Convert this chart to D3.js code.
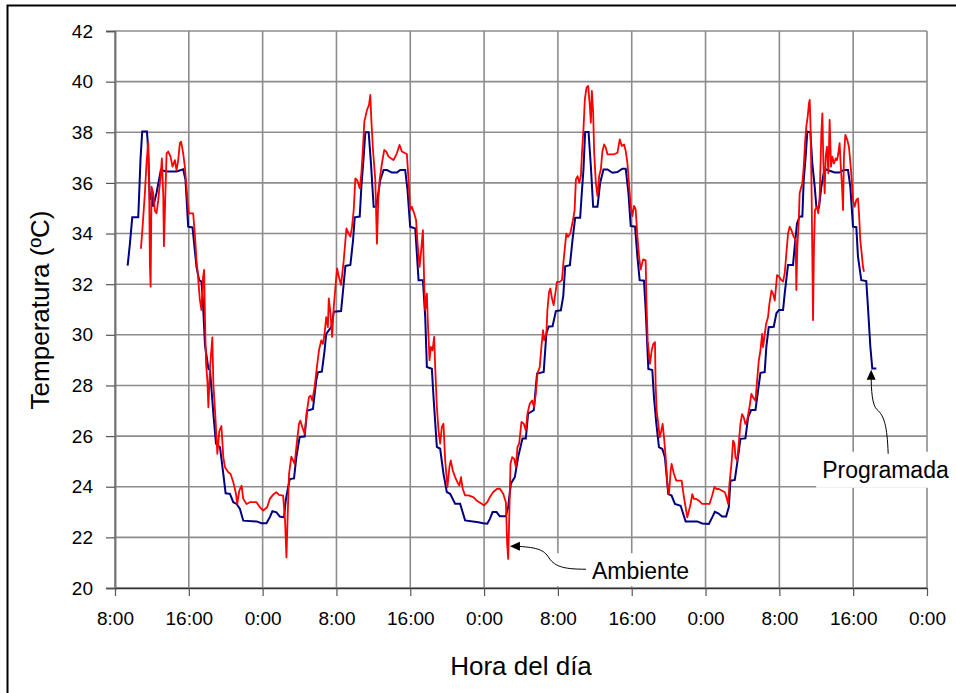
<!DOCTYPE html>
<html><head><meta charset="utf-8">
<script src="https://cdn.jsdelivr.net/npm/d3@7"></script>
<style>html,body{margin:0;padding:0;background:#fff;}svg{display:block;font-family:"Liberation Sans",Arial,sans-serif;}</style>
</head><body><svg id="c" width="956" height="693"></svg>
<script>
// Hours elapsed since the first 8:00 tick
const xTickHours = [0,8,16,24,32,40,48,56,64,72,80,88];
const xTickLabels = ["8:00","16:00","0:00","8:00","16:00","0:00","8:00","16:00","0:00","8:00","16:00","0:00"];
const yTicks = [20,22,24,26,28,30,32,34,36,38,40,42];

// Programada (blue)
const progHours = [1.37,1.62,1.87,2.52,2.77,2.95,3.46,3.53,3.78,3.95,4.14,4.5,4.97,5.59,6.67,7.39,7.64,7.93,8.4,8.83,9.12,9.37,9.5,9.75,10.12,10.3,10.66,10.95,11.38,11.74,11.99,12.46,12.82,13.18,13.54,13.9,15.34,15.88,16.42,16.78,17.06,17.5,17.86,18.32,18.5,18.76,18.94,19.4,19.65,20.01,20.55,20.81,21.45,21.81,21.99,22.42,22.71,22.89,23.46,23.71,24.5,24.72,24.97,25.51,25.8,25.98,26.52,26.7,26.95,27.13,27.49,27.74,28.03,28.32,28.75,29.11,29.47,30.01,30.55,30.91,31.45,31.7,31.99,32.54,32.9,33.37,33.62,33.8,34.34,34.52,34.88,35.24,35.6,35.96,36.32,36.86,37.4,37.94,39.37,39.91,40.35,40.63,40.92,41.35,41.71,42.36,42.61,42.9,43.33,43.69,44.16,44.52,44.77,45.38,45.74,46.46,46.75,47.0,47.42,47.78,48.32,48.58,48.79,49.3,49.59,49.87,50.41,50.59,50.77,50.95,51.32,51.57,51.82,52.29,52.58,52.94,53.37,53.91,54.45,54.99,55.35,55.64,55.89,56.36,56.61,56.86,57.33,57.51,57.8,58.23,58.41,58.67,58.95,59.32,59.6,59.96,60.32,60.68,61.3,61.84,63.1,63.64,64.36,64.72,65.01,65.37,65.8,66.23,66.52,66.7,67.17,67.42,67.78,68.32,68.61,68.94,69.41,69.69,69.95,70.41,70.59,70.85,71.39,71.68,71.96,72.4,72.58,72.94,73.48,73.66,73.91,74.2,74.49,74.64,74.85,75.03,75.36,75.57,75.83,76.01,76.3,76.55,76.8,77.02,77.45,78.0,78.53,78.97,79.44,79.69,79.98,80.34,80.52,80.88,81.42,81.6,81.86,82.07,82.51];
const progTemp = [32.73,33.61,34.64,34.64,36.97,38.03,38.03,37.7,35.33,35.6,35.06,35.6,36.51,36.45,36.45,36.54,36.12,34.27,34.24,32.69,32.16,32.1,31.5,29.6,28.66,28.6,26.88,25.7,25.56,24.5,23.74,23.72,23.39,23.32,23.12,22.66,22.63,22.56,22.56,22.8,23.03,22.99,22.82,22.79,23.45,23.98,24.3,24.33,25.16,25.96,25.98,27.0,27.07,28.2,28.52,28.55,29.38,30.04,30.32,30.91,30.94,31.77,32.72,32.76,33.74,34.64,34.67,35.85,37.04,38.0,38.0,36.77,35.06,35.06,36.12,36.51,36.51,36.41,36.41,36.51,36.51,35.72,34.27,34.2,32.16,32.16,30.7,28.73,28.66,27.54,25.57,25.5,24.51,23.79,23.72,23.33,23.33,22.67,22.6,22.56,22.54,22.73,23.0,23.0,22.83,22.83,23.2,24.12,24.38,25.17,25.9,25.9,26.89,27.02,28.47,28.53,30.05,30.33,30.34,30.94,30.97,31.53,32.71,32.75,33.77,34.62,34.62,35.61,36.53,38.01,38.01,36.67,35.06,35.06,36.01,36.53,36.53,36.4,36.43,36.56,36.56,35.61,34.3,34.27,33.11,32.16,32.14,31.0,28.65,28.61,27.53,26.48,25.56,25.49,25.16,23.71,23.65,23.32,23.25,22.63,22.63,22.55,22.53,22.79,23.01,22.95,22.82,22.82,23.19,24.24,24.27,24.9,25.89,25.91,26.74,27.03,27.03,27.8,28.5,28.53,29.53,30.3,30.32,30.85,30.98,30.98,31.64,32.76,32.76,33.48,34.4,34.67,34.67,36.12,37.04,38.03,37.99,36.77,35.85,35.06,35.04,35.85,36.38,36.54,36.48,36.41,36.41,36.51,36.51,35.85,34.27,34.25,33.09,32.16,32.12,31.11,29.53,28.67,28.67];

// Ambiente (red)
const ambHours = [2.81,2.99,3.24,3.42,3.6,3.68,3.78,3.86,3.96,4.14,4.32,4.5,4.68,4.94,5.08,5.23,5.3,5.44,5.59,5.77,6.02,6.23,6.49,6.67,6.85,7.03,7.17,7.39,7.57,7.75,7.86,8.0,8.47,8.65,8.83,9.0,9.19,9.37,9.55,9.66,9.77,9.87,10.01,10.12,10.3,10.55,10.66,10.88,11.09,11.31,11.53,11.74,11.92,12.28,12.53,12.82,13.11,13.25,13.47,13.72,13.9,14.26,14.62,15.34,15.7,16.06,16.49,16.78,17.14,17.5,17.78,18.22,18.43,18.58,18.72,18.86,19.11,19.47,19.65,19.94,20.09,20.3,20.55,20.81,21.02,21.2,21.38,21.63,21.88,22.1,22.35,22.53,22.71,22.89,23.07,23.17,23.35,23.53,23.71,23.89,24.07,24.25,24.5,24.79,25.08,25.33,25.51,25.69,25.87,26.05,26.23,26.52,26.7,26.88,27.02,27.31,27.53,27.67,27.78,27.96,28.21,28.32,28.39,28.53,28.68,28.93,29.18,29.4,29.65,29.9,30.19,30.55,30.83,31.09,31.63,31.81,31.99,32.17,32.42,32.63,32.79,33.01,33.15,33.37,33.51,33.62,33.8,33.91,34.09,34.23,34.41,34.59,34.7,34.88,35.06,35.24,35.42,35.6,35.78,36.03,36.24,36.39,36.6,36.86,37.11,37.32,37.5,37.68,37.94,38.3,38.83,39.19,39.73,39.99,40.35,40.63,40.99,41.42,41.71,42.07,42.36,42.5,42.61,42.72,42.86,43.04,43.26,43.44,43.62,43.8,44.05,44.3,44.52,44.7,44.95,45.2,45.42,45.6,45.78,46.03,46.21,46.39,46.5,46.75,46.86,47.04,47.18,47.36,47.54,47.72,47.9,48.19,48.44,48.62,48.91,49.09,49.34,49.63,49.81,49.95,50.13,50.31,50.49,50.59,50.77,50.92,51.1,51.28,51.46,51.57,51.68,51.82,51.93,52.11,52.29,52.47,52.65,52.83,53.01,53.19,53.37,54.09,54.45,54.7,54.92,55.17,55.35,55.53,55.71,55.89,56.07,56.25,56.43,56.61,56.79,56.97,57.23,57.51,57.59,57.73,57.87,57.98,58.16,58.34,58.52,58.59,58.7,58.88,59.03,59.21,59.35,59.5,59.68,59.86,60.04,60.22,60.32,60.58,60.83,61.41,61.66,61.84,62.02,62.2,62.38,62.56,62.74,62.99,63.28,63.64,64.43,64.72,64.97,65.19,65.44,65.8,66.09,66.27,66.45,66.59,66.81,66.99,67.14,67.24,67.42,67.6,67.78,67.96,68.14,68.32,68.5,68.76,68.97,69.15,69.41,69.59,69.77,69.95,70.13,70.23,70.38,70.56,70.77,70.92,71.14,71.32,71.5,71.75,71.96,72.22,72.4,72.58,72.76,72.94,73.12,73.3,73.55,73.77,73.84,73.95,74.09,74.2,74.38,74.49,74.64,74.78,74.92,75.07,75.21,75.29,75.39,75.5,75.65,75.75,75.86,76.08,76.22,76.37,76.55,76.66,76.77,76.91,77.02,77.16,77.31,77.45,77.6,77.74,77.92,78.1,78.25,78.39,78.53,78.64,78.79,78.9,79.0,79.15,79.36,79.54,79.73,79.87,79.98,80.16,80.34,80.52,80.63,80.77,80.92,81.06,81.17];
const ambTemp = [33.4,34.27,35.6,36.8,37.6,36.6,32.8,31.9,35.85,35.6,34.9,34.8,35.3,36.25,36.97,35.5,33.5,35.3,37.17,37.24,37.04,36.64,36.9,36.5,36.9,37.57,37.63,37.17,36.64,35.85,35.3,34.8,34.8,34.0,32.95,32.3,31.4,30.98,32.3,32.56,30.3,28.85,28.2,27.14,28.72,29.9,28.06,26.75,25.3,26.2,26.4,25.16,24.77,24.57,24.5,24.18,23.72,23.32,23.85,24.04,23.52,23.32,23.39,23.39,23.19,23.06,23.19,23.52,23.69,23.78,23.68,23.65,22.66,21.21,22.92,24.5,25.19,24.9,25.56,26.48,26.61,26.35,26.09,27.0,27.54,27.6,27.4,27.93,28.72,29.38,29.78,29.64,30.04,30.7,30.3,31.44,30.85,29.92,31.1,31.9,32.62,32.3,31.97,32.95,34.2,34.0,33.88,34.27,34.93,36.18,36.12,35.79,36.38,37.43,38.42,38.88,39.08,39.48,38.49,37.3,36.12,34.53,33.6,35.3,36.12,36.77,37.3,37.24,37.04,36.97,36.9,37.17,37.5,37.24,37.14,36.12,34.93,35.06,34.8,34.53,33.6,32.68,33.21,34.13,32.02,30.97,31.63,30.44,29.0,29.52,29.39,29.92,28.73,27.15,26.23,25.7,26.36,26.49,25.04,23.99,24.78,25.04,24.65,24.38,24.18,24.05,24.38,23.92,23.66,23.66,23.59,23.46,23.33,23.26,23.39,23.59,23.79,23.92,23.92,23.72,23.39,21.75,21.15,22.67,24.91,25.17,25.1,24.78,25.57,25.7,26.56,26.49,26.23,26.89,27.28,27.41,27.15,27.68,28.47,28.73,29.52,30.18,29.79,30.05,30.97,31.69,31.83,31.43,31.17,31.63,32.09,32.09,32.16,32.95,34.0,33.87,34.0,34.53,34.92,36.14,36.27,36.01,36.27,37.06,38.12,39.3,39.76,39.83,39.04,38.38,39.63,38.78,37.19,36.01,35.48,36.27,36.53,37.26,37.52,37.39,37.13,37.13,37.19,37.72,37.46,37.52,37.26,36.8,35.94,35.09,34.69,35.09,34.95,33.9,33.11,32.58,32.98,32.94,31.35,29.77,29.25,28.85,29.38,29.64,29.71,28.06,27.0,26.48,25.95,26.22,26.48,25.95,25.16,24.11,23.71,24.63,24.9,24.5,24.24,24.24,23.58,23.19,22.79,23.05,23.32,23.71,23.52,23.52,23.45,23.32,23.32,23.65,24.0,23.91,23.91,23.84,23.78,23.58,23.32,24.11,24.9,25.82,25.69,25.16,25.03,25.69,26.48,26.87,26.74,26.48,26.61,27.14,27.67,27.53,27.4,28.19,28.98,29.38,30.04,29.51,29.91,30.43,30.7,31.22,31.75,31.62,31.35,32.36,32.3,32.16,32.1,32.43,33.22,34.0,34.27,34.14,33.88,33.74,31.77,33.48,34.4,35.59,35.85,35.98,36.64,37.57,38.22,38.62,39.15,39.28,38.09,35.46,30.58,33.48,34.93,35.06,34.8,35.46,37.96,38.75,36.77,35.59,37.04,37.43,36.38,38.49,36.64,37.04,36.77,36.97,36.9,37.17,37.57,36.77,35.85,34.93,37.04,37.9,37.7,37.43,36.64,35.98,35.33,35.06,35.33,35.39,34.8,33.74,33.22,32.69,32.49];

const xTitle = "Hora del día";
const yTitle = "Temperatura (ºC)";
const annAmbiente = {label:"Ambiente", h:42.8, t:21.65};
const annProgramada = {label:"Programada", h:81.95, t:28.62};

const svg = d3.select("#c");
const W = 956, H = 693;
const m = {l:115, r:927, t:31, b:588};
const x = d3.scaleLinear().domain([0,88]).range([m.l, m.r]);
const y = d3.scaleLinear().domain([20,42]).range([m.b, m.t]);
const grid = "#8c8c8c";

svg.append("rect").attr("width",W).attr("height",H).attr("fill","#fff");
// outer frame
svg.append("rect").attr("x",7.5).attr("y",5.5).attr("width",980).attr("height",720)
  .attr("fill","none").attr("stroke","#000").attr("stroke-width",2);

// gridlines
svg.append("g").selectAll("line").data(yTicks).join("line")
  .attr("x1",m.l).attr("x2",m.r).attr("y1",d=>y(d)).attr("y2",d=>y(d))
  .attr("stroke",grid).attr("stroke-width",1.6);
svg.append("g").selectAll("line").data(xTickHours).join("line")
  .attr("x1",d=>x(d)).attr("x2",d=>x(d)).attr("y1",m.t).attr("y2",m.b)
  .attr("stroke",grid).attr("stroke-width",1.6);

// axes
const yAxis = svg.append("g").attr("transform",`translate(${m.l},0)`)
  .call(d3.axisLeft(y).tickValues(yTicks).tickFormat(d3.format("d")).tickSize(9).tickPadding(13));
yAxis.select(".domain").attr("stroke","#777").attr("stroke-width",2);
yAxis.selectAll(".tick line").attr("stroke","#555").attr("stroke-width",1.2);
yAxis.selectAll("text").attr("font-size",19).attr("fill","#000").attr("font-family","Liberation Sans, Arial, sans-serif");

const xAxis = svg.append("g").attr("transform",`translate(0,${m.b})`)
  .call(d3.axisBottom(x).tickValues(xTickHours).tickFormat((d,i)=>xTickLabels[i]).tickSize(8).tickSizeOuter(0).tickPadding(16));
xAxis.select(".domain").attr("stroke","#333").attr("stroke-width",1.6);
xAxis.selectAll(".tick line").attr("stroke","#555").attr("stroke-width",1.2);
xAxis.selectAll("text").attr("font-size",19).attr("fill","#000").attr("font-family","Liberation Sans, Arial, sans-serif");

// titles
svg.append("text").attr("x",521).attr("y",675).attr("text-anchor","middle")
  .attr("font-size",26).text(xTitle);
svg.append("text").attr("transform","translate(49,310) rotate(-90)").attr("text-anchor","middle")
  .attr("font-size",26).text(yTitle);

// series
const line = d3.line().x(d=>x(d[0])).y(d=>y(d[1]));
const progData = progHours.map((h,i)=>[h,progTemp[i]]);
const ambData = ambHours.map((h,i)=>[h,ambTemp[i]]);
svg.append("path").datum(progData).attr("d",line).attr("fill","none")
  .attr("stroke","#000080").attr("stroke-width",2).attr("stroke-linejoin","miter");
svg.append("path").datum(ambData).attr("d",line).attr("fill","none")
  .attr("stroke","#ff0000").attr("stroke-width",1.8).attr("stroke-linejoin","round");

// annotations
function arrowHead(tx,ty,angle){
  const L=10, Wd=4.5;
  const a = angle*Math.PI/180;
  const bx = tx + L*Math.cos(a), by = ty + L*Math.sin(a);
  const px = -Math.sin(a)*Wd, py = Math.cos(a)*Wd;
  svg.append("path").attr("d",`M${tx},${ty}L${bx+px},${by+py}L${bx-px},${by-py}Z`).attr("fill","#000");
}
// Ambiente
{
  const tx = x(annAmbiente.h), ty = y(annAmbiente.t);
  svg.append("rect").attr("x",tx+40).attr("y",ty+7).attr("width",152).attr("height",33).attr("fill","#fff");
  svg.append("path").attr("d",`M${tx+6},${ty} C${tx+25},${ty+1} ${tx+33},${ty+3} ${tx+38},${ty+10} C${tx+44},${ty+20} ${tx+52},${ty+23} ${tx+76},${ty+23}`)
    .attr("fill","none").attr("stroke","#000").attr("stroke-width",1);
  arrowHead(tx,ty,0);
  svg.append("text").attr("x",tx+82).attr("y",ty+33).attr("font-size",23).text(annAmbiente.label);
}
// Programada
{
  const tx = x(annProgramada.h), ty = y(annProgramada.t);
  svg.append("rect").attr("x",tx-55).attr("y",ty+82).attr("width",140).attr("height",36).attr("fill","#fff");
  svg.append("path").attr("d",`M${tx},${ty+6} C${tx},${ty+20} ${tx+1},${ty+36} ${tx+6},${ty+40} C${tx+13},${ty+46} ${tx+16},${ty+56} ${tx+17},${ty+84}`)
    .attr("fill","none").attr("stroke","#000").attr("stroke-width",1);
  arrowHead(tx,ty,90);
  svg.append("text").attr("x",tx-49).attr("y",ty+108).attr("font-size",23).text(annProgramada.label);
}
</script></body></html>
